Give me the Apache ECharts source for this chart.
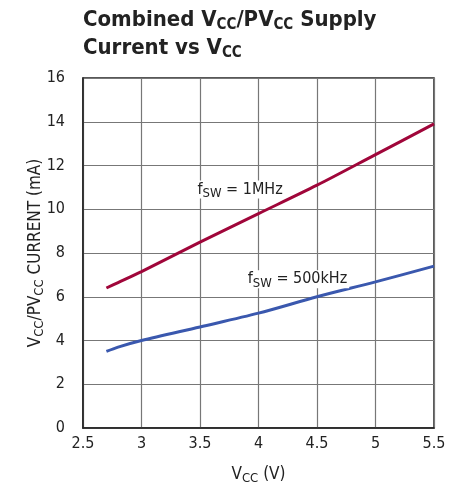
<!DOCTYPE html>
<html>
<head>
<meta charset="utf-8">
<script src="https://cdn.jsdelivr.net/npm/echarts@6/dist/echarts.min.js"></script>
<style>html,body{margin:0;padding:0;background:#fff;}#c{width:460px;height:491px;}</style>
</head>
<body>
<div id="c"></div>
<script>
var vcc = [2.7, 2.8, 3.0, 3.5, 4.0, 4.5, 5.0, 5.5];
var current1MHz = [6.4, 6.65, 7.15, 8.5, 9.8, 11.1, 12.5, 13.9];
var current500kHz = [3.5, 3.7, 4.0, 4.62, 5.25, 6.0, 6.68, 7.4];
var xTicks = [2.5, 3, 3.5, 4, 4.5, 5, 5.5];
var yTicks = [0, 2, 4, 6, 8, 10, 12, 14, 16];
var annotations = [
  {sub: 'SW', rest: ' = 1MHz', x: 3.47, y: 10.9},
  {sub: 'SW', rest: ' = 500kHz', x: 3.9, y: 6.8}
];

var FONT = '"Liberation Sans Narrow", "DejaVu Sans Condensed", "Roboto Condensed", Arial, sans-serif';
var chart = echarts.init(document.getElementById('c'), null, {renderer: 'canvas'});

function pairs(xs, ys) { return xs.map(function (x, i) { return [x, ys[i]]; }); }

var annRich = {
  m: {fontFamily: FONT, fontSize: 16, color: '#222', lineHeight: 18},
  s: {fontFamily: FONT, fontSize: 13, color: '#222', lineHeight: 18, padding: [8, 0, 0, 0]}
};

function annPoint(a) {
  return {
    coord: [a.x, a.y],
    symbol: 'rect', symbolSize: 0,
    label: {
      show: true, position: 'right', distance: 0,
      formatter: '{m|f}{s|' + a.sub + '}{m|' + a.rest + '}',
      rich: annRich,
      backgroundColor: '#fff',
      padding: [0, 2, 0, 1]
    }
  };
}

var option = {
  animation: false,
  backgroundColor: '#fff',
  title: {
    left: 83, top: 6, padding: 0,
    text: '{b|Combined V}{s|CC}{b|/PV}{s|CC}{b| Supply}\n{b|Current vs V}{s|CC}',
    textStyle: {
      rich: {
        b: {fontFamily: FONT, fontSize: 22, fontWeight: 'bold', color: '#222', lineHeight: 28},
        s: {fontFamily: FONT, fontSize: 15, fontWeight: 'bold', color: '#222', lineHeight: 28, padding: [10, 0, 0, 0]}
      }
    }
  },
  grid: {left: 83, right: 26, top: 78, bottom: 63, show: true, borderColor: '#222', borderWidth: 1.5, containLabel: false},
  xAxis: {
    type: 'value', min: 2.5, max: 5.5, interval: 0.5,
    name: '{m|V}{s|CC}{m| (V)}',
    nameLocation: 'middle', nameGap: 38, nameMoveOverlap: false,
    nameTextStyle: {
      rich: {
        m: {fontFamily: FONT, fontSize: 17, color: '#222', lineHeight: 18},
        s: {fontFamily: FONT, fontSize: 13, color: '#222', lineHeight: 18, padding: [8, 0, 0, 0]}
      }
    },
    axisLine: {show: true, lineStyle: {color: '#222', width: 1.5}},
    axisTick: {show: false},
    axisLabel: {
      margin: 8, fontFamily: FONT, fontSize: 16, color: '#222',
      formatter: function (v) { return xTicks.indexOf(v) >= 0 ? String(v) : ''; }
    },
    splitLine: {show: true, lineStyle: {color: '#777', width: 1.2}}
  },
  yAxis: {
    type: 'value', min: 0, max: 16, interval: 2,
    name: '{m|V}{s|CC}{m|/PV}{s|CC}{m| CURRENT (mA)}',
    nameLocation: 'middle', nameGap: 38, nameMoveOverlap: false,
    nameTextStyle: {
      rich: {
        m: {fontFamily: FONT, fontSize: 17, color: '#222', lineHeight: 18},
        s: {fontFamily: FONT, fontSize: 13, color: '#222', lineHeight: 18, padding: [8, 0, 0, 0]}
      }
    },
    axisLine: {show: true, lineStyle: {color: '#222', width: 1.5}},
    axisTick: {show: false},
    axisLabel: {
      margin: 18, fontFamily: FONT, fontSize: 16, color: '#222',
      formatter: function (v) { return yTicks.indexOf(v) >= 0 ? String(v) : ''; }
    },
    splitLine: {show: true, lineStyle: {color: '#777', width: 1.2}}
  },
  series: [
    {
      type: 'line', name: '1MHz', data: pairs(vcc, current1MHz),
      smooth: 0.3, symbol: 'none',
      lineStyle: {color: '#a0063a', width: 3},
      markPoint: {data: [annPoint(annotations[0])], animation: false}
    },
    {
      type: 'line', name: '500kHz', data: pairs(vcc, current500kHz),
      smooth: 0.3, symbol: 'none',
      lineStyle: {color: '#3a58ae', width: 3},
      markPoint: {data: [annPoint(annotations[1])], animation: false}
    }
  ]
};
chart.setOption(option);
</script>
</body>
</html>
